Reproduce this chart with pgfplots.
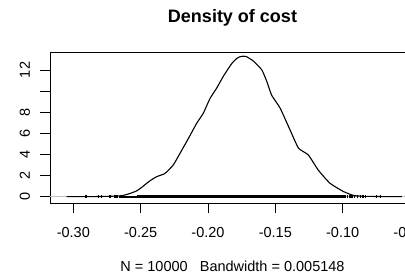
\documentclass[border=0pt]{standalone}
\usepackage{fontspec}
\setmainfont{Liberation Sans}
\usepackage{pgfplots}
\pgfplotsset{compat=1.18}
\definecolor{zgray}{RGB}{190,190,190}
\begin{document}
\begin{tikzpicture}
\useasboundingbox (0,0) rectangle (405bp,278bp);
\clip (0,0) rectangle (405bp,278bp);
\begin{axis}[
  at={(50bp,75bp)}, anchor=south west,
  width=365bp, height=151bp, scale only axis,
  xmin=-0.3173, xmax=-0.0463, ymin=-0.597, ymax=13.70,
  xtick={-0.30,-0.25,-0.20,-0.15,-0.10,-0.05},
  xticklabels={-0.30,-0.25,-0.20,-0.15,-0.10,-0.05},
  ytick={0,2,4,6,8,10,12},
  yticklabels={0,2,4,6,8,,12},
  tick align=outside, major tick length=9.5bp,
  xtick pos=bottom, ytick pos=left,
  tick style={black, line width=0.8bp},
  axis line style={line width=0.8bp},
  ticklabel style={font=\fontsize{14.5bp}{17bp}\selectfont},
  xticklabel style={anchor=base, yshift=-25bp},
  yticklabel style={xshift=-10.5bp, rotate=90, anchor=base},
  clip=false,
]
\addplot[zgray, line width=0.8bp] coordinates {(-0.3173,0) (-0.0463,0)};
\addplot[black, line width=2bp] coordinates {(-0.266,0) (-0.253,0)};
\addplot[black, line width=3.2bp] coordinates {(-0.253,0) (-0.0973,0)};
\addplot[black, only marks, mark=|, mark size=1.4bp, line width=1.3bp] coordinates {
 (-0.2905,0) (-0.2812,0) (-0.2789,0) (-0.2727,0) (-0.2690,0) (-0.2675,0)
 (-0.0965,0) (-0.0945,0) (-0.0930,0) (-0.0910,0) (-0.0890,0) (-0.0870,0)
 (-0.0850,0) (-0.0830,0) (-0.0748,0) (-0.0720,0)};
\addplot[black, line width=1.1bp, smooth, tension=0.3] coordinates {
 (-0.305,0) (-0.295,0.003) (-0.285,0.01) (-0.275,0.03) (-0.268,0.06)
 (-0.263,0.12) (-0.258,0.3) (-0.253,0.55) (-0.249,0.9) (-0.2455,1.27)
 (-0.242,1.6) (-0.238,1.9) (-0.232,2.2) (-0.2258,3.0) (-0.2208,4.1)
 (-0.2146,5.5) (-0.2084,6.95) (-0.2035,7.9) (-0.1985,9.3) (-0.1936,10.27)
 (-0.1886,11.4) (-0.1824,12.6) (-0.1785,13.1) (-0.1762,13.25) (-0.1738,13.3)
 (-0.1713,13.25) (-0.1664,12.85) (-0.160,12.0) (-0.156,10.8) (-0.1527,9.6)
 (-0.1465,8.4) (-0.139,6.3) (-0.1328,4.6) (-0.1255,3.95) (-0.118,2.5)
 (-0.1094,1.27) (-0.0996,0.5) (-0.092,0.12) (-0.085,0.04) (-0.075,0.02)
 (-0.065,0.005) (-0.056,0)};
\end{axis}
\node[anchor=base, font=\bfseries\fontsize{18bp}{21bp}\selectfont] at (232.5bp,255bp) {Density of cost};
\node[anchor=base, font=\fontsize{14.5bp}{17bp}\selectfont] at (232.5bp,6.3bp) {N = 10000\ \ \ Bandwidth = 0.005148};
\end{tikzpicture}
\end{document}
